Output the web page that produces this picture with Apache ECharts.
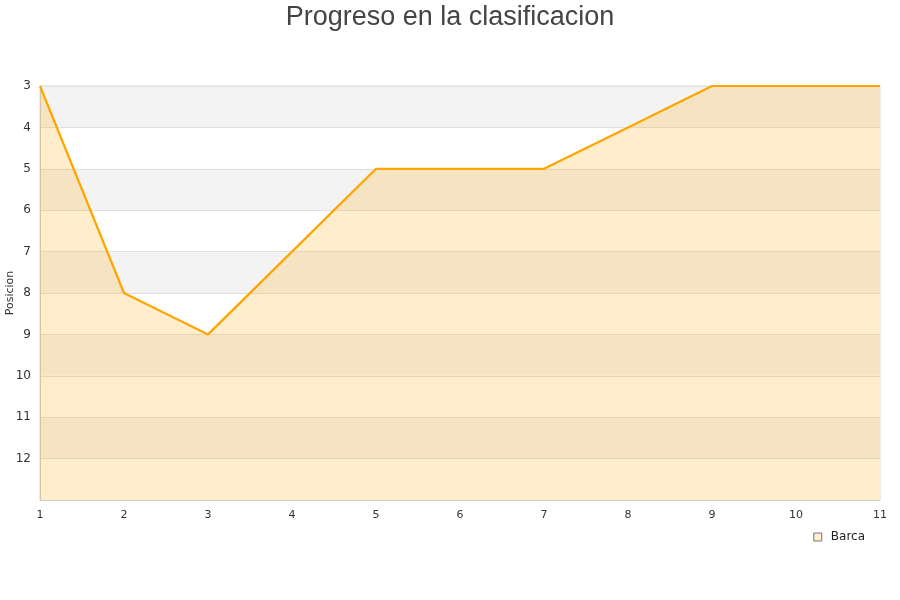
<!DOCTYPE html>
<html><head><meta charset="utf-8">
<script src="https://cdn.jsdelivr.net/npm/echarts@6/dist/echarts.min.js"></script>
<style>html,body{margin:0;padding:0;background:#fff}#c{width:900px;height:600px}</style>
</head><body><div id="c"></div>
<script>
const jornadas = [1,2,3,4,5,6,7,8,9,10,11];
const posiciones = [3,8,9,7,5,5,5,4,3,3,3];
const serieNombre = 'Barca';
const titulo = 'Progreso en la clasificacion';
const ejeY = 'Posicion';

const chart = echarts.init(document.getElementById('c'));
chart.setOption({
  animation:false,
  title:{text:titulo,left:'center',top:-1,textStyle:{fontFamily:'Liberation Sans, Arial',fontSize:27,fontWeight:'normal',color:'#444'}},
  grid:{left:40,right:20,top:86,bottom:100,show:true,borderColor:'#ddd',borderWidth:1,containLabel:false,outerBoundsMode:'none'},
  legend:{right:30,top:526,itemWidth:8,itemHeight:8,icon:'rect',
    textStyle:{fontFamily:'DejaVu Sans',fontSize:12,color:'#222',padding:[0,0,0,4]},
    data:[{name:serieNombre,itemStyle:{color:'#ffedcc',borderColor:'#777',borderWidth:1}}]},
  xAxis:{type:'value',min:1,max:11,interval:1,
    axisLine:{lineStyle:{color:'#ccc'}},axisTick:{show:false},splitLine:{show:false},
    axisLabel:{color:'#333',fontFamily:'DejaVu Sans',fontSize:11,margin:10}},
  yAxis:{type:'value',inverse:true,min:3,max:13,interval:1,name:ejeY,nameLocation:'middle',nameGap:24,nameMoveOverlap:false,
    nameTextStyle:{fontFamily:'DejaVu Sans',fontSize:11,color:'#333'},
    axisLine:{show:true,lineStyle:{color:'#ccc'}},axisTick:{show:false},
    axisLabel:{color:'#333',fontFamily:'DejaVu Sans',fontSize:12,margin:9,formatter:v=>v===13?'':String(v)},
    splitLine:{lineStyle:{color:'#e0e0e0'}},
    splitArea:{show:true,areaStyle:{color:['#f3f3f3','#ffffff'],opacity:1}}},
  series:[{name:serieNombre,type:'line',data:jornadas.map((j,i)=>[j,posiciones[i]]),
    showSymbol:false,symbol:'none',lineStyle:{color:'#ffa500',width:2.2},itemStyle:{color:'#ffa500'},
    areaStyle:{color:'#ffa500',opacity:0.2,origin:'end'}}]
});
</script></body></html>
